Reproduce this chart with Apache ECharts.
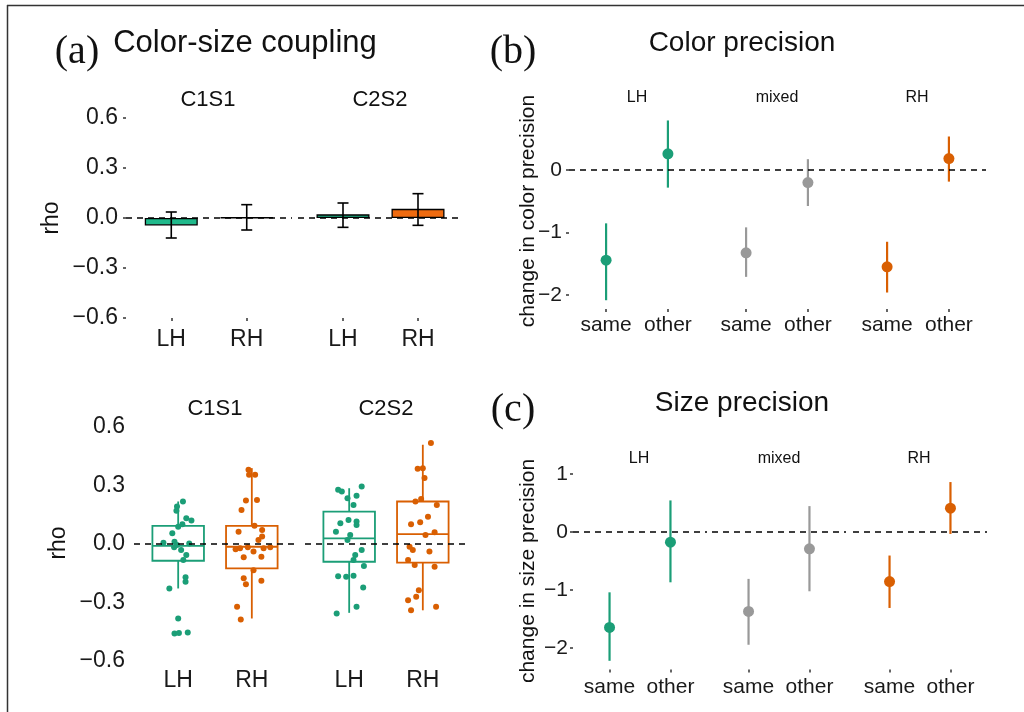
<!DOCTYPE html>
<html>
<head>
<meta charset="UTF-8">
<title>Color-size coupling / color and size precision</title>
<script src="https://cdn.jsdelivr.net/npm/echarts@6/dist/echarts.min.js"></script>
<style>
  html, body { margin: 0; padding: 0; background: #fff; }
  #main { width: 1024px; height: 712px; }
</style>
</head>
<body>
<div id="main"></div>
<script>
// ---- values ----
var hands = ['LH', 'RH'];
var conds = ['same', 'other'];
var yTicksA = [-0.6, -0.3, 0, 0.3, 0.6];
var yTicksB = [-2, -1, 0];
var yTicksC = [-2, -1, 0, 1];

// (a) top: [hand, mean rho, low, high]
var meanC1S1 = [[1, -0.045, -0.12, 0.036], [2, 0.003, -0.072, 0.08]];
var meanC2S2 = [[1, 0.022, -0.056, 0.09], [2, 0.055, -0.044, 0.146]];

// (a) bottom: box stats [hand, min, q1, median, q3, max]
var boxC1S1 = [[1, -0.228, -0.086, -0.01, 0.093, 0.218], [2, -0.382, -0.125, -0.014, 0.093, 0.389]];
var boxC2S2 = [[1, -0.353, -0.091, 0.029, 0.166, 0.286], [2, -0.34, -0.096, 0.051, 0.218, 0.509]];

// jittered subjects [x offset, rho]
var ptsC1S1LH = [[0.065,0.218],[-0.016,0.192],[-0.024,0.171],[0.11,0.132],[0.18,0.12],[0.057,0.101],[0,0.089],[-0.08,0.055],[-0.2,0.007],[-0.05,0.012],[-0.055,-0.017],[-0.016,-0.005],[0.15,0.003],[0.04,-0.031],[0.11,-0.057],[0.07,-0.082],[0.1,-0.171],[0.1,-0.194],[-0.12,-0.228],[0,-0.382],[-0.05,-0.459],[0.01,-0.456],[0.13,-0.454]];
var ptsC1S1RH = [[-0.045,0.381],[-0.037,0.355],[0.045,0.355],[-0.08,0.223],[0.07,0.226],[-0.14,0.175],[0.036,0.093],[-0.18,0.063],[0.14,0.072],[0.14,0.038],[0.09,0.021],[-0.22,-0.027],[-0.16,-0.022],[-0.054,-0.017],[0.16,-0.022],[0.25,-0.017],[0.023,-0.039],[-0.11,-0.068],[0.13,-0.065],[0.023,-0.134],[-0.11,-0.176],[-0.08,-0.206],[0.13,-0.189],[-0.2,-0.322],[-0.15,-0.387]];
var ptsC2S2LH = [[0.17,0.295],[-0.15,0.278],[-0.1,0.269],[-0.023,0.235],[0.1,0.247],[0.059,0.2],[-0.12,0.106],[-0.009,0.123],[0.1,0.115],[0.1,0.098],[-0.18,0.063],[0.014,0.046],[-0.023,0.021],[0.17,-0.031],[0.082,-0.057],[0.059,-0.082],[0.2,-0.113],[-0.15,-0.165],[-0.041,-0.168],[0.059,-0.163],[0.19,-0.223],[-0.17,-0.357],[0.1,-0.322]];
var ptsC2S2RH = [[0.11,0.518],[-0.07,0.386],[0,0.389],[0.023,0.338],[-0.1,0.218],[-0.023,0.231],[0.19,0.2],[0.07,0.14],[-0.036,0.111],[-0.16,0.101],[0.16,0.06],[0.036,0.046],[-0.18,-0.014],[-0.136,-0.031],[0.09,-0.039],[-0.2,-0.082],[-0.11,-0.108],[0.16,-0.117],[-0.054,-0.237],[-0.09,-0.271],[-0.2,-0.288],[0.18,-0.322],[-0.16,-0.34]];

// (b) color precision: [cond, estimate, low, high]
var colorLH = [[1, -1.44, -2.08, -0.853], [2, 0.256, -0.283, 0.789]];
var colorMixed = [[1, -1.323, -1.707, -0.917], [2, -0.203, -0.576, 0.171]];
var colorRH = [[1, -1.547, -1.957, -1.147], [2, 0.181, -0.187, 0.533]];

// (c) size precision
var sizeLH = [[1, -1.644, -2.22, -1.038], [2, -0.173, -0.865, 0.548]];
var sizeMixed = [[1, -1.367, -1.943, -0.806], [2, -0.288, -1.02, 0.45]];
var sizeRH = [[1, -0.853, -1.308, -0.403], [2, 0.415, -0.03, 0.865]];

var GREEN = '#1b9e77', ORANGE = '#d95f02', GREY = '#999999';
var GREEN_BAR = '#20b98b', ORANGE_BAR = '#ef6b10';
var FONT = 'Liberation Sans';

var myChart = echarts.init(document.getElementById('main'));

function minusFmt(digits) {
    return function (v) {
        var s = Math.abs(v).toFixed(digits);
        return v < -1e-9 ? '\u2212' + s : s;
    };
}

// panel boxes in px
var grids = [
    {left: 126, top: 118, width: 166, height: 200},   // a top C1S1
    {left: 298, top: 118, width: 165, height: 200},   // a top C2S2
    {left: 134, top: 427, width: 162, height: 234},   // a bottom C1S1
    {left: 305, top: 427, width: 162, height: 234},   // a bottom C2S2
    {left: 569, top: 111, width: 136, height: 198},   // b LH
    {left: 709, top: 111, width: 136, height: 198},   // b mixed
    {left: 850, top: 111, width: 136, height: 198},   // b RH
    {left: 573, top: 472.5, width: 134, height: 197}, // c LH
    {left: 712, top: 472.5, width: 134, height: 197}, // c mixed
    {left: 853, top: 472.5, width: 134, height: 197}  // c RH
];

var xAxes = [], yAxes = [], series = [];

function addAxes(i, labels, xo, yo) {
    xAxes.push({
        type: 'value', gridIndex: i, min: 0.4, max: 2.6, position: 'bottom',
        splitLine: {show: false}, axisLine: {show: false, onZero: false},
        axisTick: {show: xo.ticks, customValues: [1, 2], length: 3, lineStyle: {color: '#333', width: 1.5}},
        axisLabel: {
            customValues: [1, 2], margin: xo.margin, fontSize: xo.size, fontFamily: FONT, color: '#1a1a1a',
            formatter: function (v) { return labels[Math.round(v) - 1]; }
        }
    });
    yAxes.push({
        type: 'value', gridIndex: i, min: yo.min, max: yo.max, position: 'left',
        splitLine: {show: false}, axisLine: {show: false, onZero: false},
        axisTick: {show: yo.show && yo.ticks, customValues: yo.at, length: 3, lineStyle: {color: '#333', width: 1.5}},
        axisLabel: {
            show: yo.show, customValues: yo.at, margin: yo.margin, fontSize: yo.size, fontFamily: FONT,
            color: '#1a1a1a', formatter: yo.fmt
        }
    });
}

var zeroLine = {
    silent: true, symbol: 'none', label: {show: false},
    lineStyle: {color: '#000', type: [6, 5], width: 1.6},
    emphasis: {disabled: true},
    data: [{yAxis: 0}]
};

// ---- (a) top: mean bars + error bars ----
function renderErr(params, api) {
    var x = api.value(0);
    var lo = api.coord([x, api.value(2)]);
    var hi = api.coord([x, api.value(3)]);
    var w = 5.5;
    var st = {stroke: '#000', lineWidth: 1.6};
    return {type: 'group', children: [
        {type: 'line', shape: {x1: lo[0], y1: lo[1], x2: hi[0], y2: hi[1]}, style: st},
        {type: 'line', shape: {x1: lo[0] - w, y1: lo[1], x2: lo[0] + w, y2: lo[1]}, style: st},
        {type: 'line', shape: {x1: hi[0] - w, y1: hi[1], x2: hi[0] + w, y2: hi[1]}, style: st}
    ]};
}
[meanC1S1, meanC2S2].forEach(function (rows, k) {
    addAxes(k, hands,
        {ticks: true, margin: 10, size: 23},
        {show: k === 0, ticks: true, min: -0.6, max: 0.6, at: yTicksA, margin: 8, size: 23, fmt: minusFmt(1)});
    series.push({
        type: 'bar', xAxisIndex: k, yAxisIndex: k, barWidth: 53,
        data: rows.map(function (r, j) {
            return {value: [r[0], r[1]], itemStyle: {color: j === 0 ? GREEN_BAR : ORANGE_BAR, borderColor: '#000', borderWidth: 1.3}};
        }),
        markLine: zeroLine, z: 2
    });
    series.push({
        type: 'custom', xAxisIndex: k, yAxisIndex: k, renderItem: renderErr,
        encode: {x: 0, y: [2, 3]}, data: rows, z: 3
    });
});

// ---- (a) bottom: boxplots + jitter ----
function renderBox(params, api) {
    var x = api.value(0);
    var half = api.size([0.7, 0])[0] / 2;
    var p = [1, 2, 3, 4, 5].map(function (d) { return api.coord([x, api.value(d)]); });
    var st = {stroke: api.visual('color'), lineWidth: 1.8, fill: 'none'};
    return {type: 'group', children: [
        {type: 'line', shape: {x1: p[0][0], y1: p[0][1], x2: p[1][0], y2: p[1][1]}, style: st},
        {type: 'line', shape: {x1: p[3][0], y1: p[3][1], x2: p[4][0], y2: p[4][1]}, style: st},
        {type: 'rect', shape: {x: p[3][0] - half, y: p[3][1], width: 2 * half, height: p[1][1] - p[3][1]}, style: st},
        {type: 'line', shape: {x1: p[2][0] - half, y1: p[2][1], x2: p[2][0] + half, y2: p[2][1]}, style: st}
    ]};
}
function jitter(pts, hand) {
    return pts.map(function (p) { return [hand + p[0], p[1]]; });
}
[[boxC1S1, ptsC1S1LH, ptsC1S1RH], [boxC2S2, ptsC2S2LH, ptsC2S2RH]].forEach(function (set, k) {
    var gi = 2 + k;
    addAxes(gi, hands,
        {ticks: false, margin: 8, size: 23},
        {show: k === 0, ticks: false, min: -0.6, max: 0.6, at: yTicksA, margin: 9, size: 23, fmt: minusFmt(1)});
    series.push({
        type: 'custom', xAxisIndex: gi, yAxisIndex: gi, renderItem: renderBox,
        encode: {x: 0, y: [1, 2, 3, 4, 5]},
        data: set[0].map(function (r, j) { return {value: r, itemStyle: {color: j === 0 ? GREEN : ORANGE}}; }),
        z: 2
    });
    series.push({
        type: 'scatter', xAxisIndex: gi, yAxisIndex: gi, symbol: 'circle', symbolSize: 6,
        itemStyle: {color: GREEN, opacity: 1}, data: jitter(set[1], 1), z: 3
    });
    series.push({
        type: 'scatter', xAxisIndex: gi, yAxisIndex: gi, symbol: 'circle', symbolSize: 6,
        itemStyle: {color: ORANGE, opacity: 1}, data: jitter(set[2], 2), z: 3,
        markLine: zeroLine
    });
});

// ---- (b), (c): point ranges ----
function renderRange(params, api) {
    var x = api.value(0);
    var lo = api.coord([x, api.value(2)]);
    var hi = api.coord([x, api.value(3)]);
    var c = api.coord([x, api.value(1)]);
    var col = api.visual('color');
    return {type: 'group', children: [
        {type: 'line', shape: {x1: lo[0], y1: lo[1], x2: hi[0], y2: hi[1]}, style: {stroke: col, lineWidth: 2.2}},
        {type: 'circle', shape: {cx: c[0], cy: c[1], r: 5.5}, style: {fill: col}}
    ]};
}
var rangeSets = [
    [colorLH, GREEN], [colorMixed, GREY], [colorRH, ORANGE],
    [sizeLH, GREEN], [sizeMixed, GREY], [sizeRH, ORANGE]
];
rangeSets.forEach(function (set, k) {
    var gi = 4 + k;
    var isB = k < 3;
    addAxes(gi, conds,
        {ticks: true, margin: isB ? 6 : 7, size: 21},
        {show: k === 0 || k === 3, ticks: true,
         min: isB ? -2.22 : -2.37, max: isB ? 0.94 : 1.03,
         at: isB ? yTicksB : yTicksC, margin: isB ? 7 : 5, size: 21, fmt: minusFmt(0)});
    series.push({
        type: 'custom', xAxisIndex: gi, yAxisIndex: gi, renderItem: renderRange,
        encode: {x: 0, y: [1, 2, 3]}, itemStyle: {color: set[1]},
        data: set[0], markLine: zeroLine
    });
});

// ---- texts and frame ----
function txt(text, x, y, size, opts) {
    opts = opts || {};
    return {
        type: 'text', x: x, y: y, rotation: opts.rot || 0, silent: true, z: 10,
        style: {
            text: text, fill: '#111', textAlign: 'center', textVerticalAlign: 'middle',
            align: 'center', verticalAlign: 'middle',
            font: size + 'px ' + (opts.serif ? 'Liberation Serif' : FONT)
        }
    };
}
var texts = [
    txt('(a)', 77, 52, 40, {serif: true}),
    txt('Color-size coupling', 245, 43, 31),
    txt('C1S1', 208, 100, 22), txt('C2S2', 380, 100, 22),
    txt('C1S1', 215, 409, 22), txt('C2S2', 386, 409, 22),
    txt('rho', 52, 218, 23, {rot: Math.PI / 2}),
    txt('rho', 59, 543, 23, {rot: Math.PI / 2}),
    txt('(b)', 513, 52, 40, {serif: true}),
    txt('Color precision', 742, 43, 28),
    txt('LH', 637, 98, 16), txt('mixed', 777, 98, 16), txt('RH', 917, 98, 16),
    txt('change in color precision', 528, 211, 21, {rot: Math.PI / 2}),
    txt('(c)', 513, 410, 40, {serif: true}),
    txt('Size precision', 742, 403, 28),
    txt('LH', 639, 459, 16), txt('mixed', 779, 459, 16), txt('RH', 919, 459, 16),
    txt('change in size precision', 528, 571, 21, {rot: Math.PI / 2})
];
var frame = [
    {type: 'line', silent: true, shape: {x1: 7, y1: 5.5, x2: 1024, y2: 5.5}, style: {stroke: '#333', lineWidth: 1.5}},
    {type: 'line', silent: true, shape: {x1: 7.5, y1: 5, x2: 7.5, y2: 712}, style: {stroke: '#333', lineWidth: 1.5}}
];

var option = {
    animation: false,
    backgroundColor: '#fff',
    grid: grids,
    xAxis: xAxes,
    yAxis: yAxes,
    series: series,
    graphic: {elements: frame.concat(texts)}
};
myChart.setOption(option);
</script>
</body>
</html>
